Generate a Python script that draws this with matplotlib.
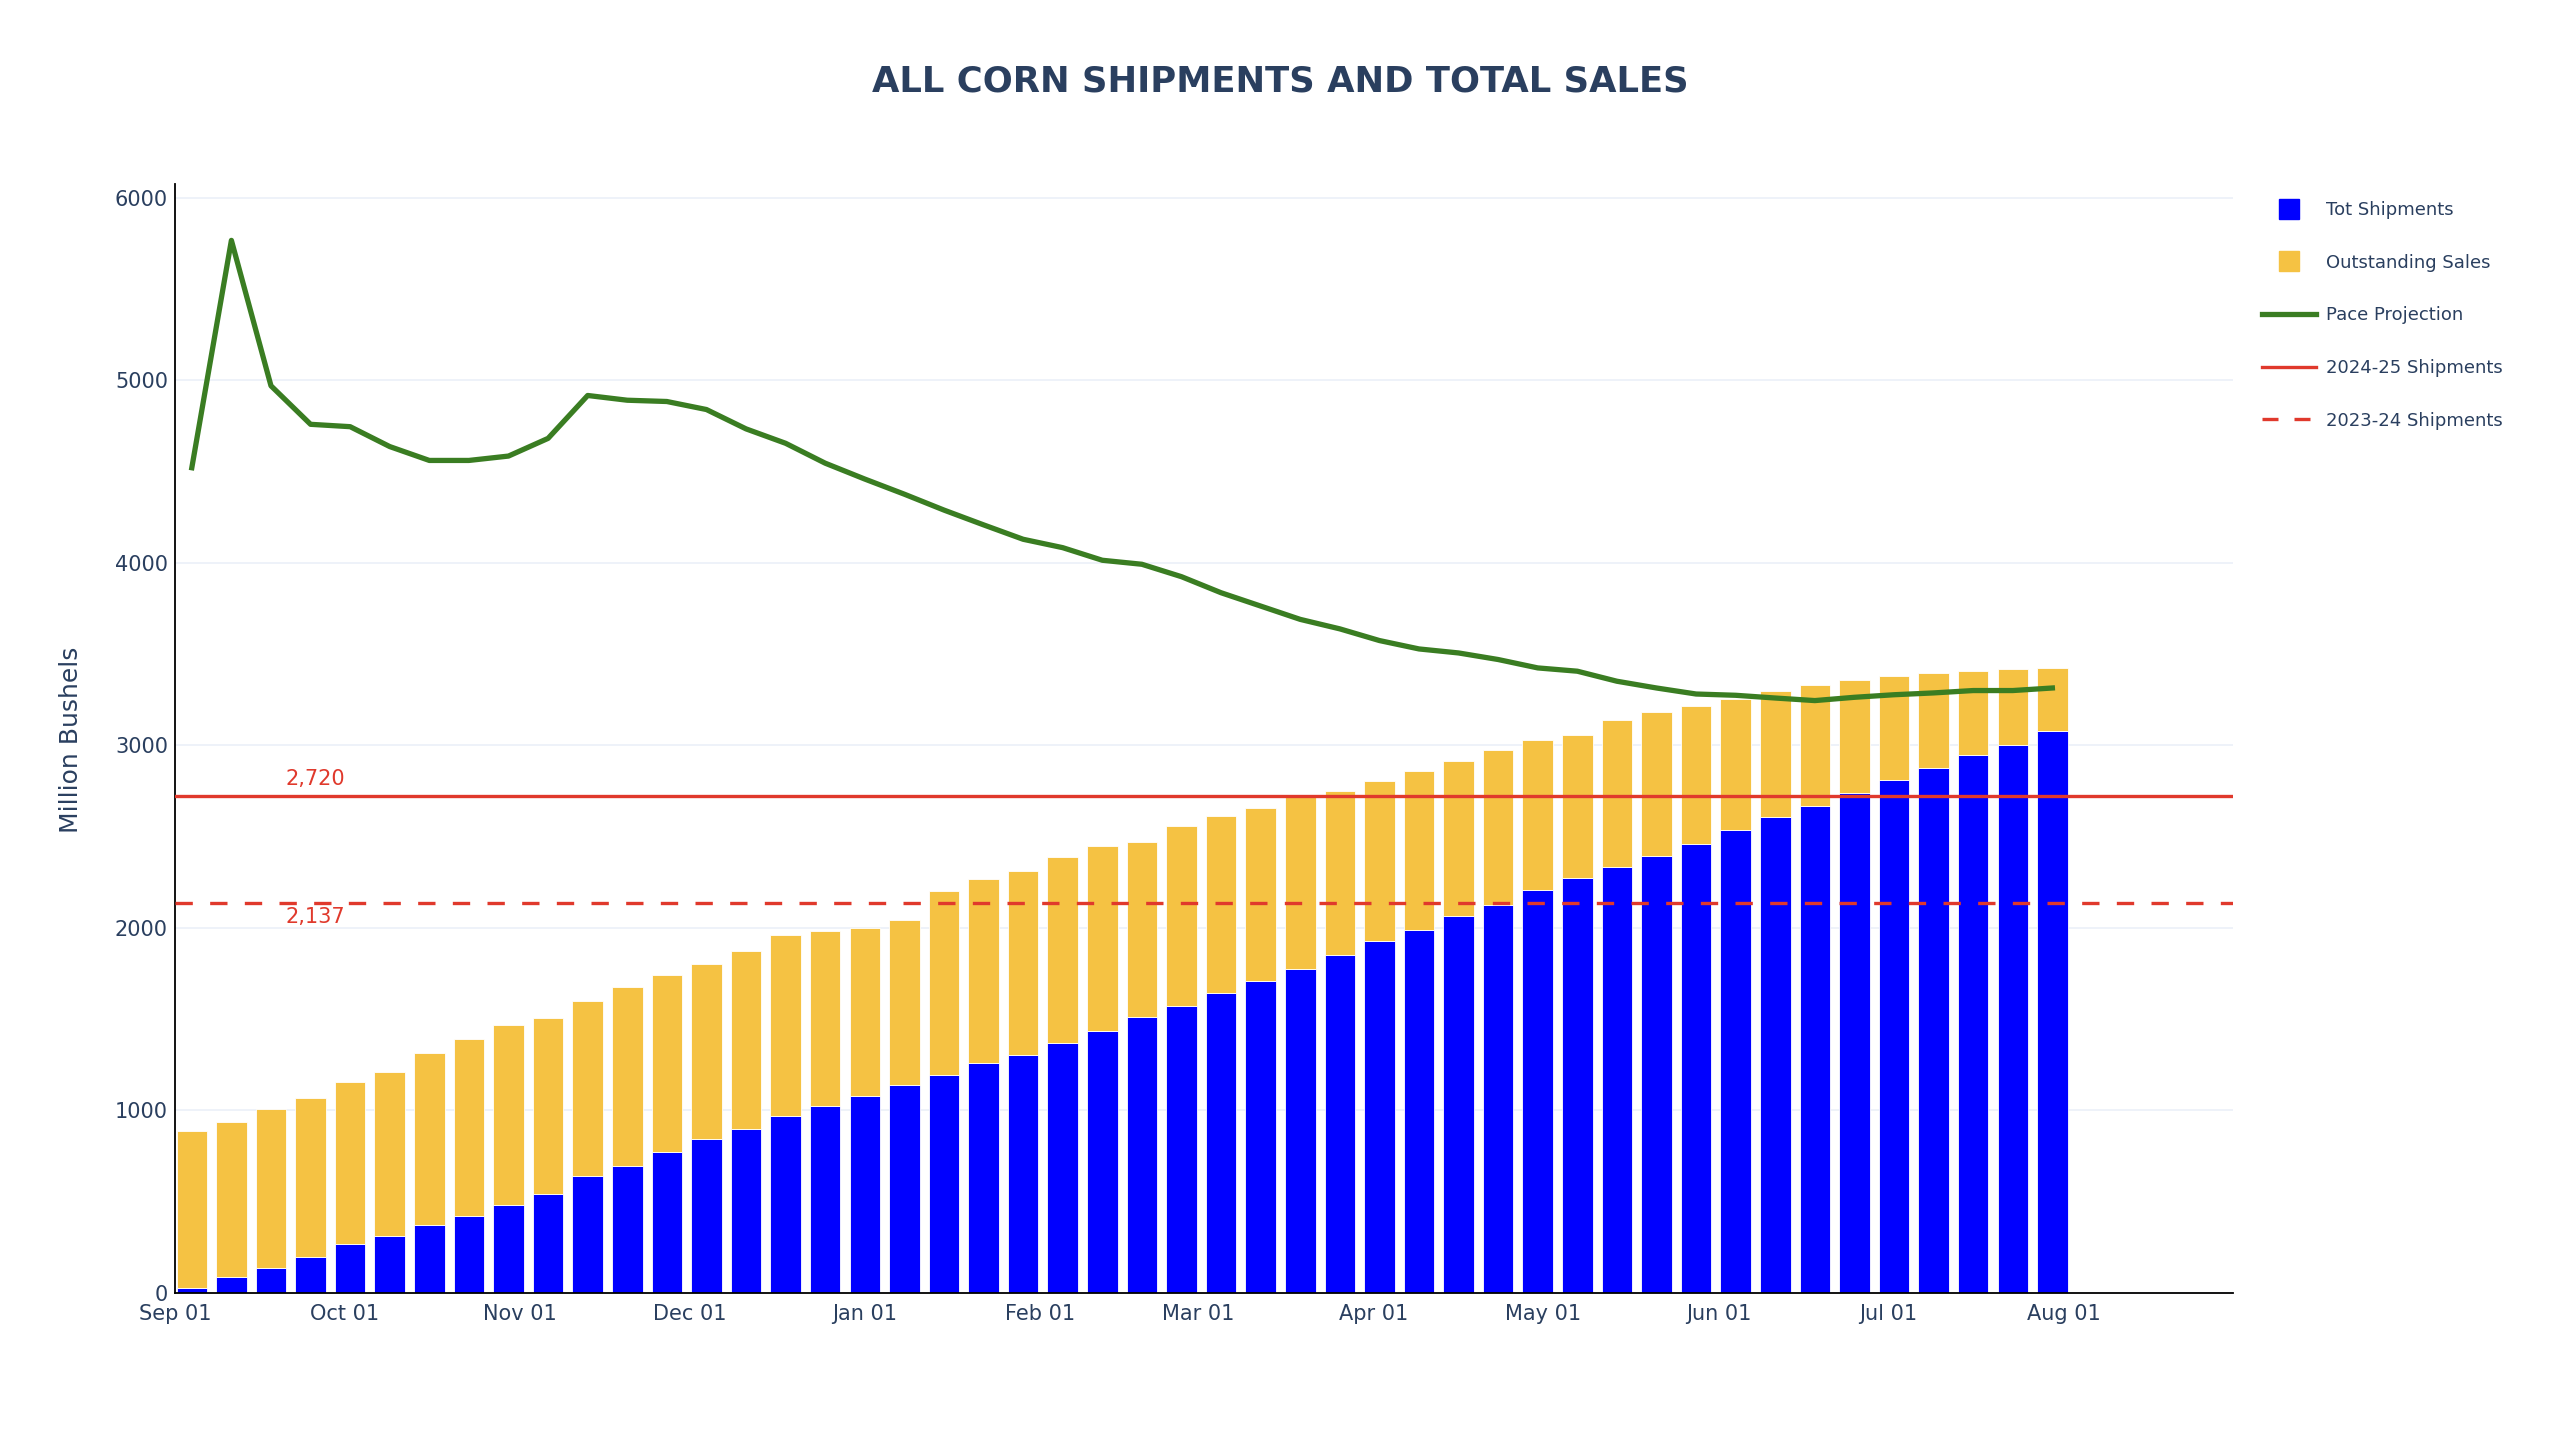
import numpy as np
import pandas as pd
import matplotlib
matplotlib.use("Agg")
import matplotlib.pyplot as plt
import matplotlib.dates as mdates
from matplotlib.lines import Line2D

# semaines (jeudi) de la campagne
weeks = pd.date_range("2025-09-04", periods=48, freq="7D")

# expéditions cumulées (millions de boisseaux)
shipments = [23, 87, 136, 194, 265, 311, 368, 417, 480, 539, 639, 696, 770,
             843, 897, 965, 1023, 1077, 1136, 1194, 1258, 1302, 1365, 1431, 1508,
             1571, 1642, 1707, 1773, 1850, 1925, 1988, 2061, 2124, 2208, 2274,
             2330, 2393, 2459, 2536, 2607, 2665, 2740, 2810, 2874, 2944, 3002, 3077]

# ventes totales (expéditions + ventes en cours)
total_sales = [883, 932, 1007, 1066, 1155, 1206, 1314, 1389, 1466, 1506, 1597, 1672, 1740,
               1799, 1869, 1958, 1979, 2000, 2044, 2201, 2265, 2309, 2386, 2445, 2471,
               2555, 2614, 2658, 2718, 2749, 2803, 2859, 2911, 2974, 3028, 3054,
               3136, 3180, 3215, 3253, 3297, 3328, 3358, 3377, 3393, 3405, 3415, 3422]

# projection au rythme actuel
pace = [4520, 5766, 4969, 4758, 4745, 4636, 4560, 4560, 4584, 4681, 4916, 4890, 4883,
        4839, 4733, 4654, 4545, 4458, 4375, 4288, 4207, 4128, 4082, 4013, 3991,
        3923, 3835, 3762, 3689, 3637, 3573, 3527, 3505, 3469, 3423, 3405,
        3350, 3313, 3280, 3273, 3258, 3244, 3262, 3276, 3286, 3299, 3299, 3313]

prev_year = 2720   # 2024-25
prev2_year = 2137  # 2023-24

outstanding = np.array(total_sales) - np.array(shipments)

txt = "#2a3f5f"
blue = "#0000ff"
gold = "#f5c243"
green = "#3a7d22"
red = "#e0392c"

fig = plt.figure(figsize=(25.6, 14.29), dpi=100)
ax = fig.add_axes([0.0683, 0.0955, 0.8724 - 0.0683, 0.8715 - 0.0955])

ax.bar(weeks, shipments, width=5.4, color=blue, edgecolor="white", linewidth=0.6, zorder=2)
ax.bar(weeks, outstanding, bottom=shipments, width=5.4, color=gold, edgecolor="white",
       linewidth=0.6, zorder=2)

ax.axhline(prev_year, color=red, lw=2.4, zorder=3)
ax.axhline(prev2_year, color=red, lw=2.4, dashes=(5.2, 5.2), zorder=3)
ax.plot(weeks, pace, color=green, lw=3.8, zorder=4, solid_joinstyle="round")

lab_x = pd.Timestamp("2025-09-26")
ax.annotate(f"{prev_year:,}", (lab_x, prev_year), xytext=(-1, 12.5), textcoords="offset points",
            ha="center", va="center", color=red, fontsize=15)
ax.annotate(f"{prev2_year:,}", (lab_x, prev2_year), xytext=(-1, -10.5), textcoords="offset points",
            ha="center", va="center", color=red, fontsize=15)

ax.set_xlim(pd.Timestamp("2025-09-01"), pd.Timestamp("2026-08-31"))
ax.set_ylim(0, 6077)
ax.set_yticks(range(0, 7000, 1000))
ax.set_xticks(pd.date_range("2025-09-01", "2026-08-01", freq="MS"))
ax.xaxis.set_major_formatter(mdates.DateFormatter("%b %d"))

ax.grid(axis="y", color="#ebf0f8", lw=1.2, zorder=0)
ax.set_axisbelow(True)
for s in ["top", "right"]:
    ax.spines[s].set_visible(False)
for s in ["left", "bottom"]:
    ax.spines[s].set_color("black")
    ax.spines[s].set_linewidth(1.3)
ax.tick_params(axis="both", length=0, labelsize=15, labelcolor=txt)
ax.tick_params(axis="y", pad=5)
ax.tick_params(axis="x", pad=8)

fig.text(0.5, 0.943, "ALL CORN SHIPMENTS AND TOTAL SALES", ha="center", va="center",
         fontsize=25.5, fontweight="bold", color=txt)
fig.text(71 / 2560, 0.482, "Million Bushels", rotation=90, ha="center", va="center",
         fontsize=18, color=txt)

handles = [
    Line2D([], [], ls="none", marker="s", markersize=14, color=blue),
    Line2D([], [], ls="none", marker="s", markersize=14, color=gold),
    Line2D([], [], color=green, lw=3.8),
    Line2D([], [], color=red, lw=2.4),
    Line2D([], [], color=red, lw=2.4, dashes=(4.8, 4.8)),
]
labels = ["Tot Shipments", "Outstanding Sales", "Pace Projection",
          "2024-25 Shipments", "2023-24 Shipments"]
leg = fig.legend(handles, labels, loc="upper left", bbox_to_anchor=(2262 / 2560, 1 - 201 / 1429),
                 frameon=False, fontsize=13, handlelength=3.0, handletextpad=0.55,
                 labelspacing=1.92, borderpad=0, borderaxespad=0)
for t in leg.get_texts():
    t.set_color(txt)

fig.savefig("out.png", dpi=100, facecolor="white")
